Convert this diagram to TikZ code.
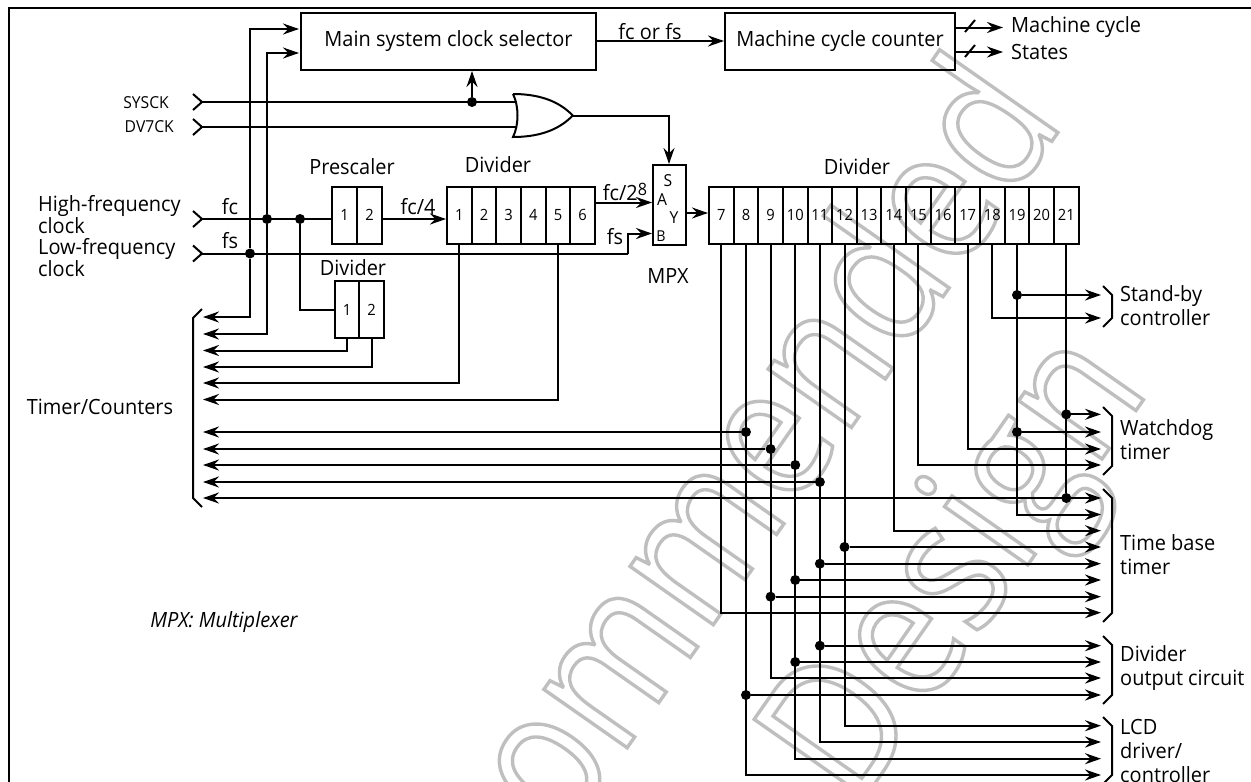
\documentclass[tikz,border=0pt]{standalone}
\usepackage{fontspec}
\setmainfont{Open Sans}[FakeStretch=0.95]
\newfontfamily\wmfont{Open Sans}[FakeStretch=0.85]
\usetikzlibrary{arrows.meta,calc}
\tikzset{
  wire/.style={line width=2pt,line join=miter},
  arr/.style={wire,-{Stealth[length=16pt,width=11pt,inset=5.5pt]}},
  arrb/.style={wire,{Stealth[length=16pt,width=11pt,inset=5.5pt]}-{Stealth[length=16pt,width=11pt,inset=5.5pt]}},
  box/.style={draw,line width=2pt,inner sep=0pt,anchor=north west},
  cell/.style={draw,line width=2pt,inner sep=0pt,minimum height=57pt,font=\fontsize{15.5}{16}\selectfont},
  dot/.style={circle,fill=black,inner sep=0pt,minimum size=10pt},
  lab/.style={inner sep=0pt,font=\fontsize{21}{24}\selectfont},
  smal/.style={inner sep=0pt,font=\fontsize{16.5}{18}\selectfont},
  rlab/.style={lab,anchor=west,align=left},
  wmark/.style={inner sep=0pt,rotate=55,anchor=base east,font=\wmfont\fontsize{190}{190}\selectfont},
}
\newcommand{\chev}[1]{\draw[wire] ([shift={(-9,-8)}]#1) -- (#1) -- ([shift={(-9,8)}]#1);}
\newcommand{\rbrk}[2]{\draw[wire] (1103,#1-9) -- (1112,#1) -- (1112,#2) -- (1103,#2+9);}
\newcommand{\outlined}[2]{\special{pdf:code 1 Tr #1 w 0.75 G}#2\special{pdf:code 0 Tr 0 G}}
\begin{document}
\begin{tikzpicture}[x=1pt,y=-1pt]
\useasboundingbox (0,0) rectangle (1251,782);
% watermark
\node[wmark] (wm1) at (1066,121) {\outlined{3.4}{Recommended}};
\node[wmark] (wm2) at (1151,389) {\outlined{3.4}{Design}};
% frame
\draw[line width=2pt] (8.5,782) -- (8.5,8) -- (1251,8);
% boxes
\node[box,minimum width=295pt,minimum height=57pt,lab] (msel) at (300,12) {Main system clock selector};
\node[box,minimum width=230pt,minimum height=57pt,lab] (mcc) at (724,12) {Machine cycle counter};
\foreach \n/\x in {1/344.5,2/369.5}
  \node[cell,minimum width=25pt] (p\n) at (\x,215) {\n};
\foreach \n/\x in {1/347,2/371.7}
  \node[cell,minimum width=24.7pt] (q\n) at (\x,309.5) {\n};
\foreach \n [evaluate=\n as \x using 447+24.67*(\n-0.5)] in {1,...,6}
  \node[cell,minimum width=24.67pt] (a\n) at (\x,215) {\n};
\foreach \n [evaluate=\n as \x using 709+24.64*(\n-6.5)] in {7,...,21}
  \node[cell,minimum width=24.64pt] (c\n) at (\x,215) {\n};
% MPX
\node[draw,line width=2pt,inner sep=0pt,anchor=north west,minimum width=33pt,minimum height=79.5pt] (mpx) at (652,164) {};
\node[smal] (ls) at (668,181) {S};
\node[smal] (la) at (662,200) {A};
\node[smal] (ly) at (674,218) {Y};
\node[smal,font=\fontsize{15}{16}\selectfont] (lb) at (661,236) {B};
\node[lab] (lmpx) at (668,276) {MPX};
% titles
\node[lab] (tp) at (352,167) {Prescaler};
\node[lab] (td1) at (498,165) {Divider};
\node[lab] (td2) at (857,167) {Divider};
\node[lab] (td3) at (353,268) {Divider};
% inputs
\coordinate (sys) at (202,102);
\coordinate (dv7) at (202,127);
\coordinate (hf) at (202,219);
\coordinate (lf) at (202,253.5);
\foreach \c in {sys,dv7,hf,lf} {\chev{\c}}
\node[smal,anchor=east] (lsys) at (169,103) {SYSCK};
\node[smal,anchor=east] (ldv) at (174,127) {DV7CK};
\node[lab,anchor=west,align=left,font=\fontsize{21}{20}\selectfont] (lhf) at (38,215) {High-frequency\\clock};
\node[lab,anchor=west,align=left,font=\fontsize{21}{20}\selectfont] (llf) at (38,258) {Low-frequency\\clock};
\node[lab] (lfc) at (230,207) {fc};
\node[lab] (lfs) at (230,241) {fs};
\node[lab] (ltc) at (100,407) {Timer/Counters};
\node[lab,font=\fontsize{21}{24}\selectfont\itshape] (lmx) at (224,622) {MPX: Multiplexer};
% OR gate
\coordinate (ortop) at (513,94);
\coordinate (orbot) at (513,137);
\coordinate (ortip) at (572.7,115.5);
\draw[wire,line join=miter] (ortop) .. controls (537,94) and (558,100) .. (ortip) .. controls (558,131) and (537,137) .. (orbot) .. controls (519,125) and (519,106) .. (ortop);
\coordinate (or1) at (516.5,102);
\coordinate (or2) at (516.5,127);
\node[dot] (jsel) at (472,102) {};
\draw[wire] (sys) -- (or1);
\draw[wire] (dv7) -- (or2);
\draw[arr] (jsel) -- (msel.south -| jsel);
\draw[arr] (ortip) -| (mpx.north -| 669,0);
% clock wires
\coordinate (m1) at (299,29);
\coordinate (m2) at (299,53);
\foreach \n/\y in {1/317,2/334,3/350.5,4/367,5/383,6/399.5,7/432,8/449,9/465,10/482,11/498}
  \coordinate (tc\n) at (203,\y);
\foreach \n/\y in {sb1/295,sb2/318,wd1/414.3,wd2/432,wd3/449,wd4/465,tb1/498,tb2/514.5,tb3/530.7,tb4/547,tb5/563.7,tb6/580,tb7/596.7,tb8/612.7,do1/645.7,do2/662,do3/678,do4/695,lc1/725.7,lc2/742,lc3/758.7,lc4/775}
  \coordinate (\n) at (1101,\y);
\node[dot] (jfc1) at (267,219) {};
\node[dot] (jfc2) at (300,219) {};
\node[dot] (jfs) at (250,253.5) {};
\draw[wire] (hf) -- (p1.west |- hf);
\draw[arr] (jfc1) |- (m2);
\draw[arr] (jfc1) |- (tc2);
\draw[arr] (jfs) |- (m1);
\draw[arr] (jfs) |- (tc1);
\draw[wire] (jfc2) |- (q1.west);
\coordinate (mb) at (652,233.5);
\coordinate (fsk) at (628,253.5);
\draw[wire] (lf) -- (fsk);
\draw[arr] (fsk) |- (mb);
\coordinate (ma) at (652,202.5);
\coordinate (my) at (685,213);
\draw[arr] (a6.east |- ma) -- (ma);
\draw[arr] (my) -- (c7.west |- my);
\draw[arr] (p2.east |- hf) -- (a1.west |- hf);
\draw[arr] (msel.east |- 0,41) -- (mcc.west |- 0,41);
\coordinate (mco1) at (1003,27.5);
\coordinate (mco2) at (1003,52);
\draw[arr] (mcc.east |- mco1) -- (mco1);
\draw[arr] (mcc.east |- mco2) -- (mco2);
\draw[wire] (965,32) -- (975,20);
\draw[wire] (965,57) -- (975,45);
\node[lab,anchor=west] (lmc) at (1011,27) {Machine cycle};
\node[lab,anchor=west] (lst) at (1011,52) {States};
\node[lab] (lfcfs) at (650,32) {fc or fs};
\node[lab] (lfc4) at (418,207) {fc/4};
\node[lab] (lfc8) at (625,192) {fc/2\raisebox{5pt}{\fontsize{17}{17}\selectfont 8}};
\node[lab] (lfs2) at (615,237) {fs};
% timer/counter sources
\draw[arr] (q1.south) |- (tc3);
\draw[arr] (q2.south) |- (tc4);
\draw[arr] (a1.south) |- (tc5);
\draw[arr] (a5.south) |- (tc6);
% divider outputs
\draw[arr] (c7.south) |- (tb8);
\draw[arr] (c8.south) |- (lc4);
\draw[arr] (c9.south) |- (do3);
\draw[arr] (c10.south) |- (lc3);
\draw[arr] (c11.south) |- (lc2);
\draw[arr] (c12.south) |- (lc1);
\draw[arr] (c14.south) |- (tb3);
\draw[arr] (c15.south) |- (wd4);
\draw[arr] (c17.south) |- (wd3);
\draw[arr] (c18.south) |- (sb2);
\draw[arr] (c19.south) |- (tb2);
\node[dot] (j8a) at (c8 |- tc7) {};
\node[dot] (j8b) at (c8 |- do4) {};
\node[dot] (j9a) at (c9 |- tc8) {};
\node[dot] (j9b) at (c9 |- tb7) {};
\node[dot] (j10a) at (c10 |- tc9) {};
\node[dot] (j10b) at (c10 |- tb6) {};
\node[dot] (j10c) at (c10 |- do2) {};
\node[dot] (j11a) at (c11 |- tc10) {};
\node[dot] (j11b) at (c11 |- tb5) {};
\node[dot] (j11c) at (c11 |- do1) {};
\node[dot] (j12) at (c12 |- tb4) {};
\node[dot] (j19a) at (c19 |- sb1) {};
\node[dot] (j19b) at (c19 |- wd2) {};
\node[dot] (j21a) at (c21 |- wd1) {};
\node[dot] (j21b) at (c21 |- tb1) {};
\draw[wire] (c21.south) -- (j21b);
\draw[arr] (j8a) -- (tc7);
\draw[arr] (j9a) -- (tc8);
\draw[arr] (j10a) -- (tc9);
\draw[arr] (j11a) -- (tc10);
\draw[arrb] (tc11) -- (tb1);
\draw[arr] (j8b) -- (do4);
\draw[arr] (j9b) -- (tb7);
\draw[arr] (j10b) -- (tb6);
\draw[arr] (j10c) -- (do2);
\draw[arr] (j11b) -- (tb5);
\draw[arr] (j11c) -- (do1);
\draw[arr] (j12) -- (tb4);
\draw[arr] (j19a) -- (sb1);
\draw[arr] (j19b) -- (wd2);
\draw[arr] (j21a) -- (wd1);
% brackets
\draw[wire] (202,309) -- (193,318) -- (193,498) -- (202,507);
\rbrk{295}{318}
\rbrk{416}{466}
\rbrk{498}{613}
\rbrk{645}{695}
\rbrk{726}{775}
% right labels
\node[rlab] (r1) at (1120,306) {Stand-by\\controller};
\node[rlab] (r2) at (1120,440) {Watchdog\\timer};
\node[rlab] (r3) at (1120,554.5) {Time base\\timer};
\node[rlab] (r4) at (1120,668) {Divider\\output circuit};
\node[rlab] (r5) at (1120,751) {LCD\\driver/\\controller};
\end{tikzpicture}
\end{document}
